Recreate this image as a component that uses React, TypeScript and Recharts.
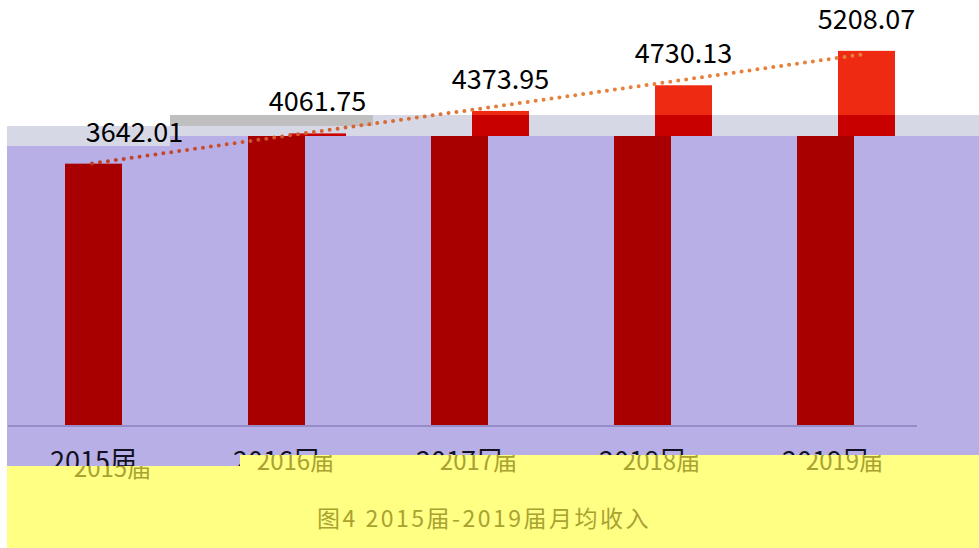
import React from 'react';
import { ComposedChart, BarChart, Bar, XAxis, YAxis, Line, LabelList } from 'recharts';

const years = ['2015届', '2016届', '2017届', '2018届', '2019届'];
const income = [3642.01, 4061.75, 4373.95, 4730.13, 5208.07];
const incomeLabels = ['3642.01', '4061.75', '4373.95', '4730.13', '5208.07'];
const trendIdx = [1, 2, 3, 4, 5];
const trendValues = [3645, 4025, 4400, 4780, 5160];
const caption = '图4 2015届-2019届月均收入';

const data = years.map((y, i) => ({
  year: y,
  income: income[i],
  label: incomeLabels[i],
  idx: trendIdx[i],
  trend: trendValues[i],
}));

const FONT = '"Noto Sans CJK SC", "Noto Sans", sans-serif';

const LowShape = (p: any) => (
  <rect x={p.x} y={p.y} width={p.width} height={p.height} fill="#A80000" clipPath="url(#clipLow)" />
);
const HighShape = (p: any) => (
  <rect x={p.x} y={p.y} width={p.width} height={p.height} fill="url(#hiGrad)" clipPath="url(#clipHigh)" />
);

const BlackTick = (p: any) => (
  <text x={p.x} y={p.y + 45} textAnchor="middle" fill="#111122" fontSize={27} fontFamily={FONT}>
    {p.payload.value}
  </text>
);
const OliveTick = (p: any) => (
  <text x={p.x} y={p.y + (p.index === 0 ? 51 : 44)} textAnchor="middle" fill="#A9A232" fontSize={24} fontFamily={FONT}>
    {p.payload.value}
  </text>
);

const abs = (left: number, top: number, width: number, height: number, bg: string, z = 0): React.CSSProperties => ({
  position: 'absolute', left, top, width, height, background: bg, zIndex: z,
});

export default function App() {
  return (
    <div style={{ position: 'absolute', left: 0, top: 0, width: 979, height: 548, overflow: 'hidden', background: '#fff' }}>
      <svg width={0} height={0} style={{ position: 'absolute' }}>
        <defs>
          <clipPath id="clipLow"><rect x={0} y={136} width={979} height={412} /></clipPath>
          <clipPath id="clipHigh"><rect x={0} y={0} width={979} height={136} /></clipPath>
          <linearGradient id="hiGrad" gradientUnits="userSpaceOnUse" x1={0} y1={0} x2={0} y2={136}>
            <stop offset={0} stopColor="#EE2A12" />
            <stop offset={115 / 136} stopColor="#EE2A12" />
            <stop offset={115 / 136} stopColor="#C80000" />
            <stop offset={1} stopColor="#C80000" />
          </linearGradient>
          <linearGradient id="trendGrad" gradientUnits="userSpaceOnUse" x1={90} y1={0} x2={520} y2={0}>
            <stop offset={0} stopColor="#BE3A26" />
            <stop offset={1} stopColor="#E6803A" />
          </linearGradient>
        </defs>
      </svg>

      {/* background bands */}
      <div style={abs(7, 136, 972, 330, '#B8AFE6')} />
      <div style={abs(7, 115, 972, 21, '#D6D8E6')} />
      <div style={abs(170, 115, 203, 11, '#BFBFBF')} />
      <div style={abs(7, 115, 163, 11, '#FFFFFF')} />
      <div style={abs(7, 126, 163, 20, '#D6D8E6')} />

      <div style={{ position: 'absolute', left: 0, top: 0, zIndex: 1 }}>
        <ComposedChart width={979} height={548} data={data} margin={{ top: 1, right: 62, bottom: 0, left: 8 }}>
          <XAxis
            xAxisId="base"
            dataKey="year"
            height={122}
            tickSize={0}
            tickMargin={0}
            interval={0}
            tickLine={false}
            padding={{ left: -6, right: 0 }}
            axisLine={{ stroke: '#968CC8', strokeWidth: 2 }}
            tick={BlackTick}
          />
          <XAxis xAxisId="shift" dataKey="year" hide padding={{ left: 35, right: -41 }} />
          <XAxis xAxisId="trend" dataKey="idx" type="number" domain={[0.564, 5.28]} hide allowDataOverflow />
          <YAxis yAxisId="v" domain={[0, 5900]} hide />
          <Bar xAxisId="base" yAxisId="v" dataKey="income" barSize={57} fill="#A80000" shape={LowShape} isAnimationActive={false} />
          <Bar xAxisId="shift" yAxisId="v" dataKey="income" barSize={57} fill="#EE2A12" shape={HighShape} isAnimationActive={false}>
            <LabelList dataKey="label" position="top" offset={22} fill="#000" fontSize={27} fontFamily={FONT} />
          </Bar>
          <Line
            xAxisId="trend"
            yAxisId="v"
            dataKey="trend"
            stroke="url(#trendGrad)"
            strokeWidth={4}
            strokeDasharray="0 8"
            strokeLinecap="round"
            dot={false}
            isAnimationActive={false}
          />
        </ComposedChart>
      </div>

      {/* yellow area */}
      <div style={abs(7, 466, 972, 82, '#FFFF84', 2)} />
      <div style={abs(240, 455, 739, 11, '#FFFF84', 2)} />

      <div
        style={{
          position: 'absolute', left: 0, top: 0, zIndex: 3,
          clipPath: 'polygon(7px 466px, 240px 466px, 240px 455px, 979px 455px, 979px 548px, 7px 548px)',
        }}
      >
        <BarChart width={979} height={548} data={data} margin={{ top: 1, right: 43, bottom: 0, left: 21 }}>
          <XAxis dataKey="year" height={122} axisLine={false} tickLine={false} tickSize={0} tickMargin={0} interval={0} tick={OliveTick} />
          <YAxis domain={[0, 5900]} hide />
          <Bar dataKey="income" fill="none" isAnimationActive={false} />
        </BarChart>
      </div>

      <div
        style={{
          position: 'absolute', left: 274, top: 500, width: 420, height: 34, lineHeight: '34px',
          textAlign: 'center', zIndex: 4, color: '#A9A232', fontSize: 23, letterSpacing: 2.5, fontFamily: FONT,
        }}
      >
        {caption}
      </div>
    </div>
  );
}
